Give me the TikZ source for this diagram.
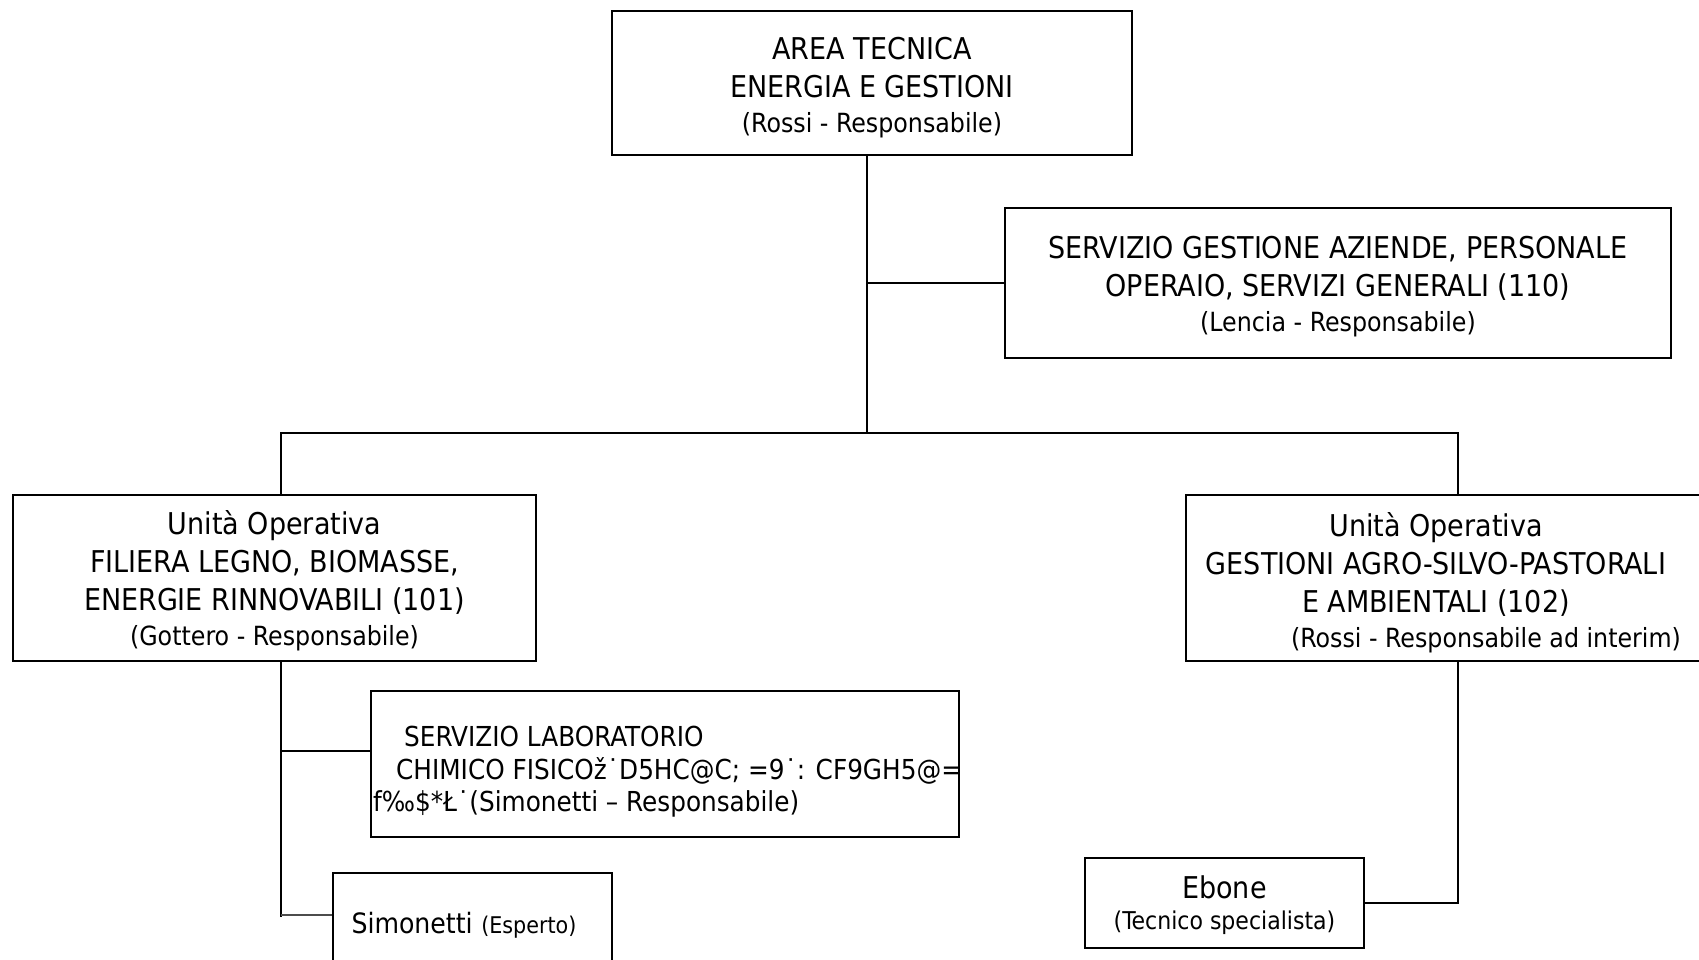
\documentclass[tikz,border=0pt]{standalone}
\usepackage{fontspec}
\setmainfont{DejaVu Sans Condensed}
\newcommand{\bigf}{\fontsize{30}{38}\selectfont}
\newcommand{\smallf}{\fontsize{26.4}{34}\selectfont}
\begin{document}
\begin{tikzpicture}[x=1pt,y=-1pt,
  box/.style={draw, line width=2.4pt, inner sep=0pt},
  lbl/.style={inner sep=0pt, align=center, font=\bigf},
  conn/.style={line width=2pt},
  thinconn/.style={line width=1.3pt, draw=black!70}]
\useasboundingbox[fill=white] (0,0) rectangle (1699,960);
% boxes
\node[box, minimum width=520, minimum height=144] (top) at (872,83) {};
\node[lbl] (topt) at (872,88)
  {AREA TECNICA\\ENERGIA E GESTIONI\\[-3pt]{\smallf (Rossi - Responsabile)}};
\node[box, minimum width=666, minimum height=150] (serv) at (1338,283) {};
\node[lbl] (servt) at (1338,287)
  {SERVIZIO GESTIONE AZIENDE, PERSONALE\\OPERAIO, SERVIZI GENERALI (110)\\[-3pt]{\smallf (Lencia - Responsabile)}};
\node[box, minimum width=523, minimum height=166] (uo1) at (274.5,578) {};
\node[lbl] (uo1t) at (274.5,581)
  {Unità Operativa\\FILIERA LEGNO, BIOMASSE,\\ENERGIE RINNOVABILI (101)\\[-3pt]{\smallf (Gottero - Responsabile)}};
\node[box, minimum width=540, minimum height=166] (uo2) at (1456,578) {};
\node[lbl] (uo2t) at (1436,583)
  {Unità Operativa\\GESTIONI AGRO-SILVO-PASTORALI\\E AMBIENTALI (102)\\[-3pt]\hspace*{100pt}{\smallf (Rossi - Responsabile ad interim)}};
\node[box, minimum width=588, minimum height=146] (lab) at (665,764) {};
\node[anchor=west, align=left, font=\fontsize{27.5}{32.5}\selectfont, inner sep=0pt] (labt) at (373,772)
  {\hspace*{31pt}SERVIZIO LABORATORIO\\\hspace*{23pt}CHIMICO FISICOž˙D5HC@C; =9˙: CF9GH5@=\\f‰\$*Ł˙(Simonetti – Responsabile)};
\node[box, minimum width=279, minimum height=104] (sim) at (472.5,925) {};
\node[lbl] (simt) at (464,925)
  {{\fontsize{28}{34}\selectfont Simonetti} {\fontsize{23}{28}\selectfont (Esperto)}};
\node[box, minimum width=279, minimum height=90] (ebone) at (1224.5,903) {};
\node[lbl] (ebonet) at (1224.5,905)
  {Ebone\\[-7pt]{\fontsize{24.5}{32}\selectfont (Tecnico specialista)}};
% junctions
\coordinate (j1) at (867,433);
\coordinate (jl) at (281,433);
\coordinate (jr) at (1458,433);
\coordinate (lb) at (281,917);
\coordinate (labj) at (281,751);
\coordinate (simj) at (281,915);
\coordinate (rb) at (1458,903);
% connectors
\draw[conn] (top.south -| j1) -- (j1);
\draw[conn] (j1 |- serv.west) -- (serv.west);
\draw[conn] (uo1.north -| jl) -- (jl) -- (jr) -- (uo2.north -| jr);
\draw[conn] (uo1.south -| jl) -- (lb);
\draw[conn] (labj) -- (labj -| lab.west);
\draw[thinconn] (simj) -- (simj -| sim.west);
\draw[conn] (uo2.south -| jr) -- (rb) -- (rb -| ebone.east);
\end{tikzpicture}
\end{document}
